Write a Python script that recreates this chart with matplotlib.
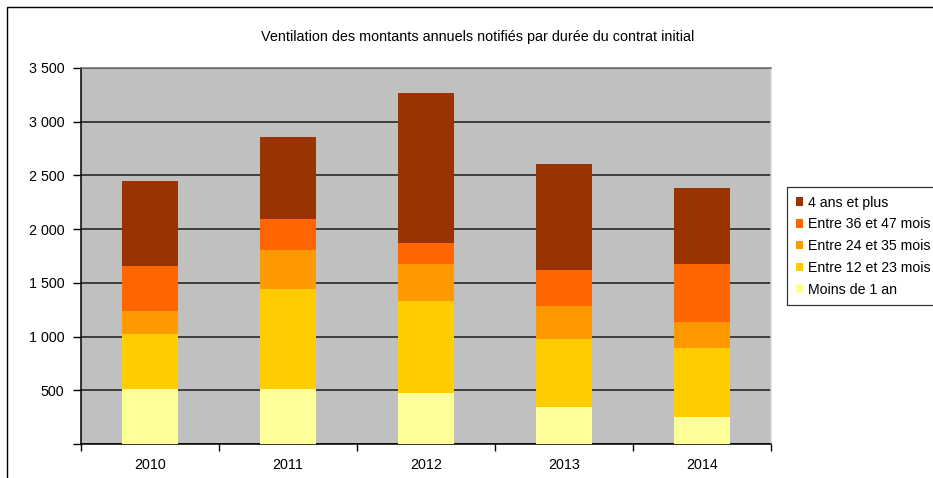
import numpy as np
import matplotlib
matplotlib.use("Agg")
import matplotlib.pyplot as plt
from matplotlib.patches import Patch, Rectangle

plt.rcParams['font.family'] = ['Liberation Sans', 'DejaVu Sans']

# data
years = ['2010', '2011', '2012', '2013', '2014']
moins_1_an = [513, 513, 476, 346, 253]
entre_12_23 = [512, 931, 857, 633, 642]
entre_24_35 = [214, 363, 343, 307, 242]
entre_36_47 = [419, 288, 196, 334, 539]
ans_4_plus = [790, 763, 1395, 987, 707]

series = [
    ('Moins de 1 an', moins_1_an, '#FFFF99'),
    ('Entre 12 et 23 mois', entre_12_23, '#FFCC00'),
    ('Entre 24 et 35 mois', entre_24_35, '#FF9900'),
    ('Entre 36 et 47 mois', entre_36_47, '#FF6600'),
    ('4 ans et plus', ans_4_plus, '#993300'),
]

yticks = [0, 500, 1000, 1500, 2000, 2500, 3000, 3500]
ytick_labels = ['', '500', '1 000', '1 500', '2 000', '2 500', '3 000', '3 500']

title = 'Ventilation des montants annuels notifiés par durée du contrat initial'

W, H = 933, 478
fig = plt.figure(figsize=(W / 100, H / 100), dpi=100)
ax = fig.add_axes([81 / W, 1 - 444 / H, 690 / W, 376 / H])
ax.set_facecolor('#C0C0C0')

x = np.arange(len(years))
bottom = np.zeros(len(years))
for name, vals, col in series:
    ax.bar(x, vals, width=0.4, bottom=bottom, color=col, label=name, zorder=3)
    bottom += np.array(vals)

ax.set_xlim(-0.5, len(years) - 0.5)
ax.set_ylim(0, 3500)

ax.set_yticks(yticks)
ax.set_yticklabels(ytick_labels, fontsize=10.3)
ax.yaxis.grid(True, color='#1a1a1a', linewidth=1.1, zorder=1)
ax.set_axisbelow(True)

ax.set_xticks(x)
ax.set_xticklabels(years, fontsize=10.3)
ax.set_xticks(np.arange(-0.5, len(years)), minor=True)
ax.tick_params(axis='x', which='major', length=0, pad=10)
ax.tick_params(axis='x', which='minor', length=5, width=1, direction='out')
ax.tick_params(axis='y', length=6, width=1, direction='out', pad=6)

ax.spines['left'].set_color('black')
ax.spines['bottom'].set_color('black')
ax.spines['top'].set_color('#707070')
ax.spines['right'].set_color('#d8d8d8')
for s in ax.spines.values():
    s.set_linewidth(1.1)

fig.text(478 / W, 1 - 37 / H, title, ha='center', va='center', fontsize=10.4)

handles = [Patch(facecolor=c, edgecolor='none', label=n) for n, v, c in series[::-1]]
leg = fig.legend(handles=handles, loc='upper left', bbox_to_anchor=(787 / W, 1 - 187 / H),
                 fontsize=10.2, frameon=True, fancybox=False, shadow=False,
                 handlelength=0.55, handleheight=0.55, handletextpad=0.35,
                 labelspacing=0.55, borderpad=0.6, borderaxespad=0)
leg.get_frame().set_edgecolor('black')
leg.get_frame().set_linewidth(0.9)

# outer chart border (runs off the right and bottom edges)
fig.patches.append(Rectangle((7.5 / W, -0.2), 1.5, 1.2 - 7 / H, transform=fig.transFigure,
                             fill=False, edgecolor='black', linewidth=1.0))

fig.savefig('out.png', dpi=100)
